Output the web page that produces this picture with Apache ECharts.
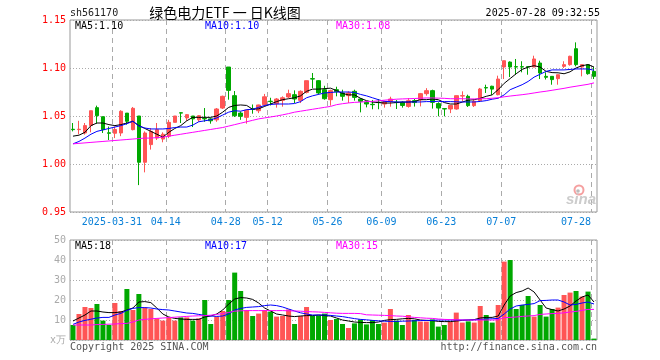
<!DOCTYPE html>
<html><head><meta charset="utf-8">
<script src="https://cdn.jsdelivr.net/npm/echarts@6/dist/echarts.min.js"></script>
<style>html,body{margin:0;padding:0;background:#fff}#c{width:660px;height:360px}</style>
</head><body><div id="c"></div>
<script>
const dates = [
'2025-03-20','2025-03-21','2025-03-24','2025-03-25','2025-03-26','2025-03-27','2025-03-28','2025-03-31',
'2025-04-01','2025-04-02','2025-04-03','2025-04-07','2025-04-08','2025-04-09','2025-04-10','2025-04-11','2025-04-14','2025-04-15','2025-04-16','2025-04-17','2025-04-18','2025-04-21','2025-04-22','2025-04-23','2025-04-24','2025-04-25','2025-04-28','2025-04-29','2025-04-30',
'2025-05-06','2025-05-07','2025-05-08','2025-05-09','2025-05-12','2025-05-13','2025-05-14','2025-05-15','2025-05-16','2025-05-19','2025-05-20','2025-05-21','2025-05-22','2025-05-23','2025-05-26','2025-05-27','2025-05-28','2025-05-29','2025-05-30',
'2025-06-03','2025-06-04','2025-06-05','2025-06-06','2025-06-09','2025-06-10','2025-06-11','2025-06-12','2025-06-13','2025-06-16','2025-06-17','2025-06-18','2025-06-19','2025-06-20','2025-06-23','2025-06-24','2025-06-25','2025-06-26','2025-06-27','2025-06-30',
'2025-07-01','2025-07-02','2025-07-03','2025-07-04','2025-07-07','2025-07-08','2025-07-09','2025-07-10','2025-07-11','2025-07-14','2025-07-15','2025-07-16','2025-07-17','2025-07-18','2025-07-21','2025-07-22','2025-07-23','2025-07-24','2025-07-25','2025-07-28'
];
// [open, close, low, high]
const ohlc = [
[1.0362,1.0358,1.034,1.0427],[1.0358,1.0362,1.031,1.045],[1.0323,1.040,1.0306,1.0427],[1.040,1.0555,1.033,1.0555],[1.0587,1.0503,1.042,1.0608],
[1.0493,1.0358,1.0323,1.0493],[1.0325,1.032,1.025,1.039],[1.032,1.036,1.027,1.039],[1.0323,1.0549,1.029,1.056],[1.053,1.0445,1.041,1.053],
[1.0358,1.058,1.035,1.0594],[1.050,1.0018,0.978,1.050],[1.0018,1.0323,0.9913,1.034],[1.0202,1.034,1.015,1.0375],[1.027,1.0358,1.025,1.0427],
[1.026,1.031,1.0226,1.033],[1.029,1.0434,1.027,1.046],[1.0434,1.050,1.0434,1.050],[1.0534,1.053,1.0427,1.054],[1.048,1.0514,1.045,1.052],
[1.050,1.047,1.0385,1.050],[1.046,1.0503,1.044,1.051],[1.0474,1.047,1.044,1.0583],[1.047,1.045,1.042,1.048],[1.046,1.0573,1.044,1.0583],
[1.0583,1.0705,1.0573,1.0712],[1.101,1.0767,1.067,1.101],[1.0712,1.0503,1.049,1.076],[1.053,1.0497,1.046,1.0547],[1.0486,1.056,1.042,1.0566],
[1.0574,1.057,1.0524,1.062],[1.0555,1.0615,1.053,1.0618],[1.0618,1.070,1.060,1.073],[1.0654,1.065,1.061,1.069],[1.0628,1.0677,1.0587,1.0687],
[1.0663,1.069,1.0597,1.0705],[1.0698,1.0733,1.0687,1.0774],[1.0722,1.0677,1.0635,1.0767],[1.0663,1.0757,1.0635,1.0767],[1.0746,1.0868,1.0735,1.0868],
[1.0889,1.0885,1.079,1.0948],[1.0868,1.074,1.0722,1.0875],[1.0774,1.068,1.067,1.0815],[1.067,1.0764,1.0608,1.0774],[1.0774,1.0753,1.0705,1.0805],
[1.074,1.0705,1.066,1.0774],[1.0712,1.074,1.0635,1.0757],[1.0757,1.0694,1.066,1.0774],[1.0677,1.0653,1.0538,1.0687],[1.0642,1.0625,1.059,1.0653],
[1.0622,1.0618,1.057,1.0667],[1.0644,1.064,1.057,1.0677],[1.0625,1.0649,1.0587,1.066],[1.0653,1.0677,1.0597,1.0701],[1.0644,1.064,1.0573,1.0667],
[1.0642,1.061,1.0587,1.0653],[1.060,1.066,1.0587,1.0687],[1.066,1.064,1.0598,1.0677],[1.067,1.0733,1.060,1.074],[1.0733,1.0764,1.0712,1.079],
[1.0764,1.0642,1.0577,1.0774],[1.0629,1.0583,1.0497,1.0643],[1.0577,1.0573,1.0497,1.0577],[1.0573,1.061,1.053,1.061],[1.0573,1.0712,1.0566,1.0712],
[1.0708,1.0712,1.0653,1.0757],[1.0705,1.0608,1.0594,1.0722],[1.0608,1.0653,1.0594,1.067],[1.066,1.0781,1.0653,1.0792],[1.0796,1.0792,1.074,1.0826],
[1.081,1.078,1.072,1.0815],[1.0722,1.0885,1.0715,1.092],[1.101,1.1076,1.0885,1.1076],[1.1062,1.101,1.0906,1.1069],[1.1014,1.101,1.093,1.1094],
[1.1014,1.101,1.0955,1.107],[1.1014,1.101,1.093,1.1014],[1.101,1.1094,1.101,1.1128],[1.1052,1.0948,1.0885,1.1076],[1.0913,1.0903,1.088,1.0955],
[1.0913,1.0879,1.0826,1.0913],[1.0889,1.093,1.0826,1.093],[1.1017,1.1035,1.100,1.107],[1.1035,1.1122,1.1024,1.1128],[1.1201,1.1035,1.1017,1.1267],
[1.101,1.1035,1.0913,1.1035],[1.1035,1.0941,1.093,1.1035],[1.0965,1.0913,1.0885,1.101]
];
const volumes = [
7.5,13,16.5,16,18,9.7,7.5,18.5,14.5,25.5,
15,23,16.2,15.5,10.8,9.7,11.3,9.7,11.3,11.3,
9.7,10.8,20,8,11.7,14.5,20,33.7,24.5,15,
12,13.2,15,14.2,11.7,12,15.3,8,12,16.5,
12,12.3,13.2,10,10.5,8,6,8.3,10.3,7.8,
10,8,8.7,15.5,9.7,7.5,12.5,10,9.2,9.2,
10.3,6.7,7.5,9,13.7,8.7,9.3,8.7,17,12.5,
8.7,17.5,39.2,40,15.5,17.5,22,11.7,17.5,11.7,
15.5,16.2,22.5,23.7,24.5,21.7,24.2,0.7
];
const ma5 = [
1.029,1.030,1.033,1.040,1.0427,1.0427,1.041,1.040,1.041,1.0427,
1.0445,1.040,1.037,1.034,1.031,1.028,1.033,1.037,1.040,1.045,
1.0486,1.0486,1.0486,1.0486,1.050,1.054,1.059,1.061,1.0615,1.061,
1.057,1.0575,1.060,1.0625,1.065,1.067,1.068,1.069,1.071,1.0757,
1.078,1.078,1.0785,1.079,1.0765,1.0735,1.072,1.072,1.0685,1.066,
1.0645,1.064,1.0635,1.0635,1.064,1.0645,1.0645,1.065,1.067,1.067,
1.0677,1.067,1.064,1.0625,1.0625,1.0645,1.0665,1.067,1.0684,1.0705,
1.072,1.0775,1.084,1.089,1.094,1.0985,1.101,1.1024,1.101,1.0965,
1.0952,1.095,1.094,1.096,1.100,1.1024,1.1035,1.101
];
const ma10 = [
1.021,1.0235,1.027,1.031,1.034,1.0355,1.037,1.0385,1.040,1.042,
1.0445,1.0395,1.0375,1.0365,1.0365,1.0365,1.037,1.038,1.0385,1.0385,
1.0405,1.044,1.045,1.046,1.048,1.051,1.054,1.0555,1.055,1.0566,
1.057,1.059,1.061,1.062,1.0625,1.0625,1.0625,1.063,1.065,1.069,
1.071,1.0725,1.074,1.0745,1.075,1.075,1.075,1.0745,1.0725,1.071,
1.069,1.067,1.0652,1.065,1.0646,1.0646,1.0646,1.0646,1.0646,1.065,
1.065,1.0653,1.065,1.065,1.0648,1.0646,1.0646,1.0646,1.0652,1.066,
1.0675,1.0685,1.072,1.0774,1.080,1.0826,1.086,1.0905,1.0935,1.0965,
1.098,1.098,1.098,1.0985,1.099,1.099,1.099,1.0976
];
const ma30 = [
1.021,1.0215,1.022,1.0225,1.023,1.0235,1.024,1.0245,1.025,1.0255,
1.026,1.0265,1.027,1.027,1.0275,1.028,1.029,1.030,1.031,1.032,
1.033,1.034,1.035,1.036,1.037,1.038,1.0395,1.041,1.0425,1.044,
1.0455,1.047,1.048,1.049,1.050,1.0512,1.0525,1.054,1.055,1.056,
1.057,1.058,1.059,1.060,1.0618,1.0628,1.0636,1.0642,1.0645,1.065,
1.0652,1.0658,1.0665,1.067,1.0675,1.0678,1.068,1.0682,1.0685,1.0688,
1.0688,1.0686,1.0684,1.068,1.068,1.068,1.0678,1.0678,1.068,1.068,
1.0685,1.069,1.070,1.0708,1.0715,1.0722,1.073,1.074,1.075,1.0758,
1.0768,1.0778,1.0788,1.080,1.081,1.082,1.083,1.0845
];
const volMa5 = [
9.5,11,12.5,14.5,14.5,14,13.7,13.7,14,15,
16,19,19.2,18.7,16,13,11.5,10.8,10.5,10.3,
10.3,10.3,11.5,12,13,15,18,20.5,21.2,21,
20.3,18.5,16,14.5,13,12.5,12,11.7,12,12.2,
12.2,12.5,12.2,12,11,10,9.5,9,8.8,8.7,
8.7,9,9.8,10.2,10.3,10.6,10.8,10.6,10,9.8,
9.7,9.3,9.2,9.2,9.5,9.8,10,10.2,11,11.3,
11.3,12,17.5,22,23.7,24.5,26,24,20,16,
15.2,14.5,15.5,17,19.5,21.5,22.5,19
];
const volMa10 = [
7.8,9,9.8,10.4,11,11.3,11.3,12.5,13.3,14.8,
15.8,16.2,16.2,16,15.5,15.2,15,14.5,14,13.5,
13.3,12.8,12.3,12,11.8,12,13,15,15.8,16.3,
16.5,16.7,17.2,17.5,17.2,16.5,15.5,14.5,13.6,13,
12.5,12.5,12.5,12.3,12,11.7,11.2,10.7,10.3,10.1,
9.8,9.6,9.4,9.3,9.3,9.4,9.5,9.6,9.7,9.8,
9.8,10,10,10,10,10,10,10.1,10.3,10.5,
10.6,10.8,13,15.5,17,17.5,17.8,18.2,19.7,19.8,
20,20,19,17.5,17.8,18.5,19,18
];
const volMa30 = [
7.5,7.5,7.5,7.5,7.7,7.8,7.9,8,8.2,8.3,
9,10,10.3,10.6,10.8,11,11.2,11.4,11.6,11.8,
12,12.1,12.2,12.4,12.8,13.2,13.8,14.4,14.6,14.7,
14.7,14.7,14.7,14.7,14.7,14.7,14.6,14.5,14.4,14.2,
14.1,14,13.8,13.6,13.4,13.3,13.3,13.3,13.2,12.6,
12.5,12.4,12.3,12.2,12,11.9,11.6,11.3,11.1,10.9,
10.8,10.5,10.3,10.2,10.1,10,10,10,10,10,
10,10.1,11.2,11.3,11.5,11.8,12,12.2,12.8,13,
13.2,13.3,13.6,14,14.3,14.8,15.3,15.3
];
const tickDates = ['2025-03-31','2025-04-14','2025-04-28','2025-05-12','2025-05-26','2025-06-09','2025-06-23','2025-07-07','2025-07-28'];
const priceTicks = [0.95, 1.15, 0.05];   // min, max, step
const volTicks = [0, 50, 10];
const mainLegend = ['MA5:1.10','MA10:1.10','MA30:1.08'];
const volLegend = ['MA5:18','MA10:17','MA30:15'];
const headCode = 'sh561170';
const headTitle = '绿色电力ETF 一 日K线图';
const headTime = '2025-07-28 09:32:55';
const footLeft = 'Copyright 2025 SINA.COM';
const footRight = 'http://finance.sina.com.cn';

const RED = '#ff5555', GREEN = '#00a800';
const MONO = '"DejaVu Sans Mono", "Liberation Mono", monospace';
const tickSet = new Set(tickDates);
const lastTick = tickDates[tickDates.length - 1];
const boundaryData = dates.map(d => d === lastTick ? {value: d, textStyle: {align: 'right'}} : d).concat(['']);
const showTick = (idx, val) => tickSet.has(typeof val === 'object' ? val.value : val);
const gridLine = {show: true, lineStyle: {color: '#aaaaaa', width: 1, type: [1, 2]}};
const vLine = {show: true, interval: showTick, lineStyle: {color: '#aaaaaa', width: 1, type: [5, 4]}};
const lineS = (data, color, xi, yi) => ({type: 'line', data, xAxisIndex: xi, yAxisIndex: yi, symbol: 'none', z: 5,
  lineStyle: {color, width: 1}, itemStyle: {color}, silent: true});

const chart = echarts.init(document.getElementById('c'), null, {renderer: 'canvas'});
const legendText = (arr, y) => arr.map((t, i) => ({type: 'text', x: [75, 205, 336][i], y,
  style: {text: t, fill: ['#000', '#0000ff', '#ff00ff'][i], font: '10px ' + MONO, textVerticalAlign: 'middle'}, z: 10}));
chart.setOption({
  animation: false,
  backgroundColor: '#fff',
  textStyle: {fontFamily: MONO},
  grid: [
    {left: 70, top: 20, width: 527, height: 192, show: true, borderColor: '#999', borderWidth: 1},
    {left: 70, top: 240, width: 527, height: 100, show: true, borderColor: '#999', borderWidth: 1}
  ],
  xAxis: [
    {type: 'category', gridIndex: 0, data: dates, boundaryGap: true, show: false, position: 'top'},
    {type: 'category', gridIndex: 0, data: boundaryData, boundaryGap: false, position: 'bottom',
     axisLine: {show: false}, axisTick: {show: false}, splitLine: vLine,
     axisLabel: {show: true, interval: showTick, color: '#0a80d8', fontSize: 10, fontFamily: MONO, margin: 5,
       formatter: v => v === tickDates[0] ? v : (v ? v.slice(5) : '')}},
    {type: 'category', gridIndex: 1, data: dates, boundaryGap: true, show: false, position: 'top'},
    {type: 'category', gridIndex: 1, data: boundaryData, boundaryGap: false, position: 'bottom',
     axisLine: {show: false}, axisTick: {show: false}, axisLabel: {show: false}, splitLine: vLine}
  ],
  yAxis: [
    {type: 'value', gridIndex: 0, min: priceTicks[0], max: priceTicks[1], interval: priceTicks[2],
     axisLine: {show: false}, axisTick: {show: false}, splitLine: gridLine,
     axisLabel: {color: '#ff0000', fontSize: 10, fontFamily: MONO, margin: 4, formatter: v => v.toFixed(2)}},
    {type: 'value', gridIndex: 1, min: volTicks[0], max: volTicks[1], interval: volTicks[2],
     axisLine: {show: false}, axisTick: {show: false}, splitLine: gridLine,
     axisLabel: {color: '#aaaaaa', fontSize: 10, fontFamily: MONO, margin: 4, formatter: v => v === 0 ? 'x万' : String(v)}}
  ],
  series: [
    {type: 'candlestick', xAxisIndex: 0, yAxisIndex: 0, data: ohlc, barWidth: 4, silent: true,
     itemStyle: {color: RED, color0: GREEN, borderColor: RED, borderColor0: GREEN, borderWidth: 1}},
    lineS(ma5, '#000000', 0, 0), lineS(ma10, '#0000ff', 0, 0), lineS(ma30, '#ff00ff', 0, 0),
    {type: 'bar', xAxisIndex: 2, yAxisIndex: 1, data: volumes, barWidth: 5, silent: true,
     itemStyle: {color: p => ohlc[p.dataIndex][1] >= ohlc[p.dataIndex][0] ? RED : GREEN}},
    lineS(volMa5, '#000000', 2, 1), lineS(volMa10, '#0000ff', 2, 1), lineS(volMa30, '#ff00ff', 2, 1)
  ],
  graphic: [
    {type: 'text', x: 70, y: 13, style: {text: headCode, fill: '#222', font: '10px ' + MONO, textVerticalAlign: 'middle'}},
    {type: 'text', x: 225, y: 13, style: {text: headTitle, fill: '#000', font: '14px "Noto Sans CJK SC"', textAlign: 'center', textVerticalAlign: 'middle'}},
    {type: 'text', x: 600, y: 13, style: {text: headTime, fill: '#000', font: '10px ' + MONO, textAlign: 'right', textVerticalAlign: 'middle'}},
    ...legendText(mainLegend, 26),
    ...legendText(volLegend, 246),
    {type: 'text', x: 70, y: 347, style: {text: footLeft, fill: '#555', font: '10px ' + MONO, textVerticalAlign: 'middle'}},
    {type: 'text', x: 597, y: 347, style: {text: footRight, fill: '#555', font: '10px ' + MONO, textAlign: 'right', textVerticalAlign: 'middle'}},
    {type: 'circle', shape: {cx: 579, cy: 190, r: 4.5}, style: {fill: 'none', stroke: '#f5a0a0', lineWidth: 2}, z: 1},
    {type: 'circle', shape: {cx: 578, cy: 191, r: 1.8}, style: {fill: '#bbbbbb'}, z: 1},
    {type: 'text', x: 581, y: 200, style: {text: 'sina', fill: '#cccccc', font: 'italic bold 15px "Liberation Sans"', textAlign: 'center', textVerticalAlign: 'middle'}, z: 1}
  ]
});
</script>
</body></html>
